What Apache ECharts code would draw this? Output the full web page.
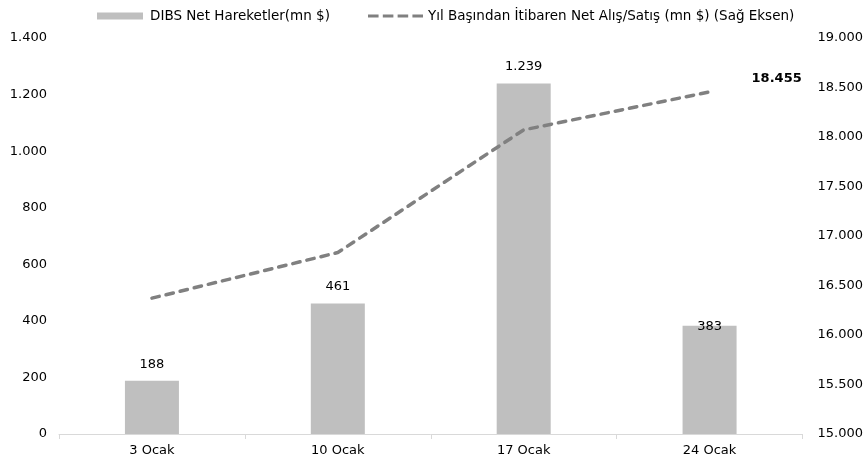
<!DOCTYPE html>
<html>
<head>
<meta charset="utf-8">
<script src="https://cdn.jsdelivr.net/npm/echarts@6/dist/echarts.min.js"></script>
<style>
html, body { margin: 0; padding: 0; background: #fff; }
#main { width: 866px; height: 469px; }
</style>
</head>
<body>
<div id="main"></div>
<script>
var categories = ['3 Ocak', '10 Ocak', '17 Ocak', '24 Ocak'];
var netMoves = [188, 461, 1239, 383];
var ytdTotal = [16372, 16833, 18072, 18455];
var barName = 'DIBS Net Hareketler(mn $)';
var lineName = 'Yıl Başından İtibaren Net Alış/Satış (mn $) (Sağ Eksen)';

function dotted(v) {
    return String(v).replace(/\B(?=(\d{3})+(?!\d))/g, '.');
}

var myChart = echarts.init(document.getElementById('main'));

var barData = netMoves.map(function (v, i) {
    var item = { value: v };
    if (i === 3) {
        item.label = { distance: -7 };
    }
    return item;
});

var lineData = ytdTotal.map(function (v, i) {
    var item = { value: v };
    if (i === ytdTotal.length - 1) {
        item.label = {
            show: true,
            position: 'right',
            offset: [37, -13],
            fontWeight: 'bold',
            color: '#000',
            fontSize: 13,
            formatter: function (p) { return dotted(p.value); }
        };
    }
    return item;
});

// dashed line icon for the legend
var dashIcon = 'path://M0,0h10v3h-10z M14,0h10v3h-10z M28,0h10v3h-10z M42,0h10v3h-10z';

var option = {
    animation: false,
    textStyle: { fontFamily: 'DejaVu Sans', color: '#000' },
    legend: [
        {
            top: 4,
            left: 92,
            itemWidth: 46,
            itemHeight: 7,
            textStyle: { fontSize: 13.5, color: '#000', padding: [0, 0, 0, 2] },
            data: [{ name: barName, icon: 'rect' }]
        },
        {
            top: 4,
            left: 363,
            itemWidth: 55,
            itemHeight: 3.5,
            textStyle: { fontSize: 13.5, color: '#000' },
            data: [{ name: lineName, icon: dashIcon, itemStyle: { color: '#808080' } }]
        }
    ],
    grid: {
        left: 59,
        right: 63,
        top: 38,
        bottom: 35
    },
    xAxis: {
        type: 'category',
        data: categories,
        axisLine: { lineStyle: { color: '#d9d9d9' } },
        axisTick: { show: true, lineStyle: { color: '#d9d9d9' } },
        axisLabel: { color: '#000', fontSize: 13, margin: 10 }
    },
    yAxis: [
        {
            type: 'value',
            min: 0,
            max: 1400,
            interval: 200,
            splitLine: { show: false },
            axisLine: { show: false },
            axisTick: { show: false },
            axisLabel: { color: '#000', fontSize: 13, margin: 12, formatter: dotted }
        },
        {
            type: 'value',
            min: 15000,
            max: 19000,
            interval: 500,
            splitLine: { show: false },
            axisLine: { show: false },
            axisTick: { show: false },
            axisLabel: { color: '#000', fontSize: 13, margin: 15, formatter: dotted }
        }
    ],
    series: [
        {
            name: barName,
            type: 'bar',
            data: barData,
            barWidth: 54,
            itemStyle: { color: '#bfbfbf' },
            label: {
                show: true,
                position: 'top',
                distance: 10,
                color: '#000',
                fontSize: 13,
                formatter: function (p) { return dotted(p.value); }
            }
        },
        {
            name: lineName,
            type: 'line',
            yAxisIndex: 1,
            data: lineData,
            symbol: 'circle',
            symbolSize: 0,
            lineStyle: { color: '#808080', width: 3.5, type: [7.5, 7], cap: 'round' },
            itemStyle: { color: '#808080' }
        }
    ]
};
myChart.setOption(option);

window.onresize = function () {
    myChart.resize();
};
</script>
</body>
</html>
